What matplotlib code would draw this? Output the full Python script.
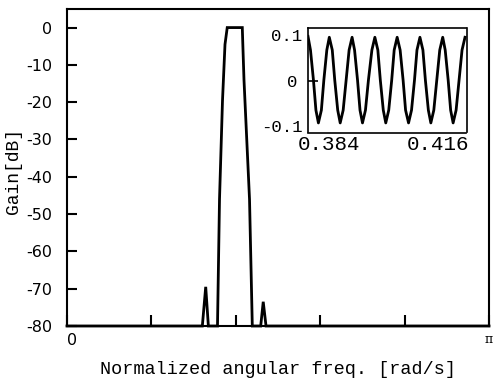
import matplotlib
matplotlib.use("Agg")
import matplotlib.pyplot as plt
import matplotlib.transforms as mtransforms

plt.rcParams['axes.unicode_minus'] = False

# ---- main response (frequency in units of pi, gain in dB) ----
freq = [0.0, 0.3207, 0.3287, 0.3350, 0.3566, 0.3614, 0.3685, 0.3744, 0.3797,
        0.4154, 0.4165, 0.4194, 0.4325, 0.4391, 0.4590, 0.4650, 0.4716, 1.0]
gain_db = [-80, -80, -69.5, -80, -80, -46, -19.5, -4.5, 0,
           0, -4, -14, -46, -80, -80, -73.5, -80, -80]

main_yticks = [0, -10, -20, -30, -40, -50, -60, -70, -80]
main_xticks = [0, 0.2, 0.4, 0.6, 0.8, 1.0]
main_xticklabels = ["0", "", "", "", "", "π"]

# ---- passband ripple (inset) ----
ripple_f = [0.3840, 0.3845, 0.3851, 0.3856, 0.3861, 0.3867, 0.3872, 0.3878, 0.3883,
            0.3889, 0.3894, 0.3900, 0.3905, 0.3911, 0.3917, 0.3923, 0.3929,
            0.3934, 0.3940, 0.3945, 0.3950, 0.3956, 0.3962, 0.3969, 0.3975,
            0.3981, 0.3986, 0.3992, 0.3997, 0.4003, 0.4009, 0.4014, 0.4020,
            0.4026, 0.4032, 0.4037, 0.4043, 0.4049, 0.4055, 0.4060, 0.4066,
            0.4072, 0.4077, 0.4083, 0.4088, 0.4094, 0.4100, 0.4106, 0.4112,
            0.4117, 0.4123, 0.4128, 0.4133, 0.4139, 0.4145, 0.4151, 0.4157]
ripple_db = [0.097, 0.067, 0.001, -0.065, -0.093, -0.065, 0.001, 0.067, 0.095,
             0.067, 0.001, -0.065, -0.093, -0.065, 0.001, 0.067, 0.095,
             0.067, 0.001, -0.065, -0.093, -0.065, 0.001, 0.067, 0.095,
             0.067, 0.001, -0.065, -0.093, -0.065, 0.001, 0.067, 0.095,
             0.067, 0.001, -0.065, -0.093, -0.065, 0.001, 0.067, 0.095,
             0.067, 0.001, -0.065, -0.093, -0.065, 0.001, 0.067, 0.095,
             0.067, 0.001, -0.065, -0.093, -0.065, 0.001, 0.067, 0.095]
inset_xticks = [0.384, 0.416]
inset_xticklabels = ["0.384", "0.416"]
inset_ylabels = ["-0.1", "0.1"]

W, H = 494, 381
fig = plt.figure(figsize=(W / 100, H / 100), dpi=100)

# main axes
L, R, T, B = 67, 489, 9.3, 326
ax = fig.add_axes([L / W, 1 - B / H, (R - L) / W, (B - T) / H])
ax.plot(freq, gain_db, color="black", lw=2.0, solid_joinstyle="miter", clip_on=False)
ax.set_xlim(0, 1)
ax.set_ylim(-80, 4.9)
for s in ax.spines.values():
    s.set_linewidth(1.5)
ax.set_yticks(main_yticks)
ax.set_yticklabels([str(v) for v in main_yticks], family="DejaVu Sans", fontsize=11.5)
ax.tick_params(axis="y", direction="in", length=7.5, width=1.5, pad=10.5)
ax.set_xticks(main_xticks)
ax.set_xticklabels(main_xticklabels, fontsize=11.5, family="DejaVu Sans")
ax.tick_params(axis="x", direction="in", length=8, width=1.5, pad=5)
xl = ax.get_xticklabels()
xl[0].set_transform(xl[0].get_transform() + mtransforms.ScaledTranslation(5 / 100, 0, fig.dpi_scale_trans))
xl[-1].set_fontsize(9)
xl[-1].set_family("DejaVu Serif")
ax.set_xlabel("Normalized angular freq. [rad/s]", family="Liberation Mono", fontsize=13.3)
ax.xaxis.set_label_coords(0.5, -0.11)
ax.set_ylabel("Gain[dB]", family="Liberation Mono", fontsize=13)
ax.yaxis.set_label_coords(-0.107, 0.49)

# inset axes
iL, iR, iT, iB = 308, 466.5, 27.7, 132.5
axi = fig.add_axes([iL / W, 1 - iB / H, (iR - iL) / W, (iB - iT) / H])
axi.plot(ripple_f, ripple_db, color="black", lw=2.0)
axi.set_xlim(0.384, 0.416)
axi.set_ylim(-0.114, 0.116)
for s in axi.spines.values():
    s.set_linewidth(1.2)
axi.set_yticks([0])
axi.set_yticklabels(["0"], family="Liberation Mono", fontsize=12.5)
axi.set_yticks([-0.1, 0.1], minor=True)
axi.set_yticklabels(inset_ylabels, minor=True, family="Liberation Mono", fontsize=12.5)
axi.tick_params(axis="y", which="major", direction="in", length=7.5, width=1.2, pad=8)
axi.tick_params(axis="y", which="minor", length=0, pad=4)
axi.set_xticks(inset_xticks)
axi.set_xticklabels(inset_xticklabels, family="Liberation Mono", fontsize=15)
axi.tick_params(axis="x", length=0, pad=2)
il = axi.get_xticklabels()
il[0].set_transform(il[0].get_transform() + mtransforms.ScaledTranslation(21 / 100, 0, fig.dpi_scale_trans))
il[1].set_transform(il[1].get_transform() + mtransforms.ScaledTranslation(-28 / 100, 0, fig.dpi_scale_trans))

fig.savefig("out.png", dpi=100)
